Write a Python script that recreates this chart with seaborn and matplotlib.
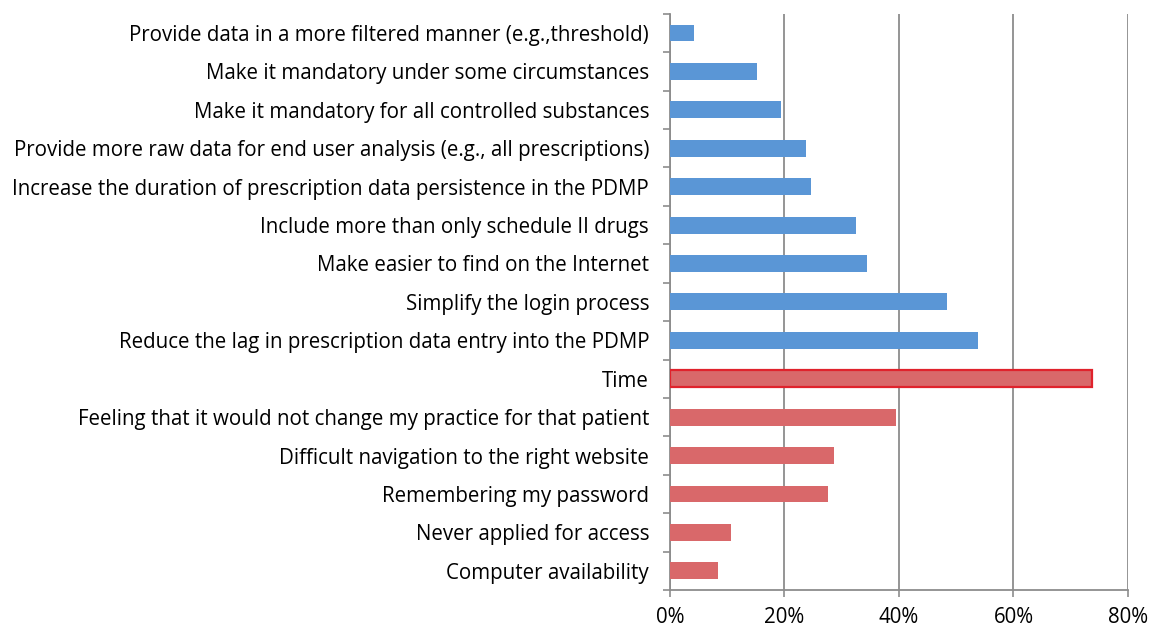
import pandas as pd
import numpy as np
import matplotlib.pyplot as plt
import seaborn as sns

# ============================================================
# DATA
# ============================================================

categorias = [
    'Provide data in a more filtered manner (e.g.,threshold)',
    'Make it mandatory under some circumstances',
    'Make it mandatory for all controlled substances',
    'Provide more raw data for end user analysis (e.g., all prescriptions)',
    'Increase the duration of prescription data persistence in the PDMP',
    'Include more than only schedule II drugs',
    'Make easier to find on the Internet',
    'Simplify the login process',
    'Reduce the lag in prescription data entry into the PDMP',
    'Time',
    'Feeling that it would not change my practice for that patient',
    'Difficult navigation to the right website',
    'Remembering my password',
    'Never applied for access',
    'Computer availability',
]
valores = [4.2, 15.2, 19.4, 23.8, 24.7, 32.5, 34.4, 48.4, 53.8,
           73.8, 39.5, 28.7, 27.6, 10.7, 8.4]
grupos = ['melhoria'] * 9 + ['barreira'] * 6
destaque = 'Time'

df = pd.DataFrame({'categoria': categorias, 'valor': valores, 'grupo': grupos})

AZUL = '#5A96D6'
VERMELHO = '#D9686A'
CINZA = '#8c8c8c'

# ============================================================
# PLOT
# ============================================================

sns.set_style('white')
plt.rcParams['font.family'] = ['Open Sans', 'DejaVu Sans']

fig = plt.figure(figsize=(11.51, 6.27), dpi=100)
ax = fig.add_axes([0.582, 0.059, 0.398, 0.919])

sns.barplot(data=df, x='valor', y='categoria', hue='grupo',
            palette={'melhoria': AZUL, 'barreira': VERMELHO},
            dodge=False, width=0.44, saturation=1, legend=False,
            edgecolor='none', linewidth=0, ax=ax, zorder=3)

for patch, cat in zip(ax.patches, categorias):
    if cat == destaque:
        patch.set_edgecolor('#E0222C')
        patch.set_linewidth(1.6)

ax.set_xlim(0, 80)
ax.set_xticks([0, 20, 40, 60, 80])
ax.set_xticklabels([f'{v}%' for v in [0, 20, 40, 60, 80]], fontsize=14.8,
                   color='black')
ax.set_ylim(len(categorias) - 0.5, -0.5)
ax.set_xlabel('')
ax.set_ylabel('')
ax.tick_params(axis='y', labelsize=14.8, labelcolor='black', length=0, pad=15)
ax.tick_params(axis='x', length=5, width=1.2, color=CINZA, pad=7,
               direction='out', bottom=True)

# marcas menores entre categorias no eixo y
ax.set_yticks(np.arange(-0.5, len(categorias), 1), minor=True)
ax.tick_params(axis='y', which='minor', length=5, width=1.2, color=CINZA,
               left=True)

ax.grid(axis='x', color=CINZA, linewidth=1.3, zorder=0)
ax.set_axisbelow(True)
for s in ['top', 'right']:
    ax.spines[s].set_visible(False)
for s in ['left', 'bottom']:
    ax.spines[s].set_color(CINZA)
    ax.spines[s].set_linewidth(1.3)

plt.savefig('out.png', dpi=100)
plt.close()
